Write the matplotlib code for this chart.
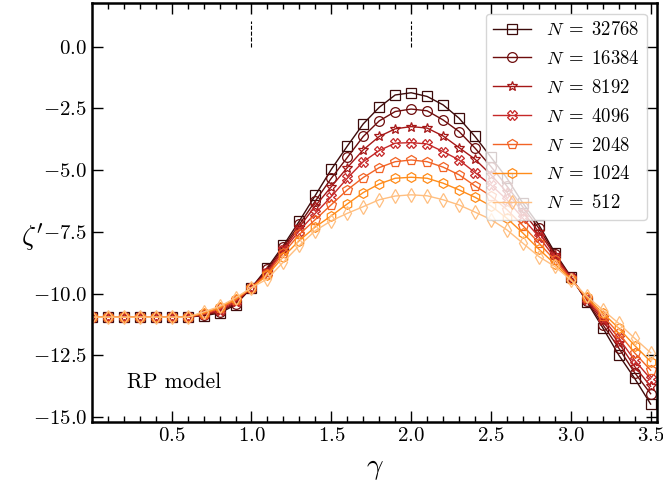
#Plot of zeta' against gamma for the RP model at several system sizes.
import matplotlib
matplotlib.use('Agg')
import matplotlib.pyplot as plt
import numpy as np

plt.rcParams['mathtext.fontset'] = 'cm'
plt.rcParams['font.family'] = 'serif'
plt.rcParams['font.serif'] = ['cmr10']
plt.rcParams['axes.formatter.use_mathtext'] = True

gamma = np.round(np.arange(0.0, 3.51, 0.1), 1)

sizes = [32768, 16384, 8192, 4096, 2048, 1024, 512]
markers = ['s', 'o', '*', 'X', 'p', 'h', 'd']
colors = ['#3d0b0b', '#6e0d0d', '#a51717', '#c62828', '#f26325', '#ff8c1a', '#ffbf80']

flat = [-10.95] * 7

z_32768 = flat + [-10.89, -10.79, -10.45, -9.76, -8.95, -8.05, -7.06, -6.02, -4.97, -4.03,
                  -3.13, -2.46, -1.96, -1.87, -2.02, -2.36, -2.90, -3.64, -4.48, -5.33,
                  -6.34, -7.22, -8.34, -9.31, -10.32, -11.38, -12.48, -13.43, -14.47]
z_16384 = flat + [-10.87, -10.74, -10.40, -9.76, -9.02, -8.12, -7.20, -6.25, -5.33, -4.49,
                  -3.64, -3.01, -2.63, -2.53, -2.60, -2.97, -3.44, -4.11, -4.86, -5.65,
                  -6.50, -7.35, -8.40, -9.33, -10.28, -11.25, -12.20, -13.20, -14.05]
z_8192 = flat + [-10.85, -10.70, -10.35, -9.76, -9.10, -8.20, -7.30, -6.45, -5.67, -4.90,
                 -4.18, -3.64, -3.33, -3.24, -3.30, -3.62, -4.09, -4.56, -5.19, -5.90,
                 -6.70, -7.50, -8.45, -9.35, -10.25, -11.10, -12.00, -12.95, -13.75]
z_4096 = flat + [-10.83, -10.65, -10.30, -9.76, -9.15, -8.25, -7.45, -6.75, -6.07, -5.33,
                 -4.66, -4.21, -3.91, -3.89, -3.94, -4.25, -4.59, -5.10, -5.60, -6.20,
                 -6.95, -7.70, -8.55, -9.37, -10.20, -11.00, -11.80, -12.70, -13.45]
z_2048 = flat + [-10.81, -10.60, -10.26, -9.76, -9.20, -8.35, -7.60, -7.00, -6.40, -5.80,
                 -5.30, -4.90, -4.66, -4.59, -4.66, -4.88, -5.19, -5.64, -6.05, -6.60,
                 -7.25, -7.95, -8.65, -9.40, -10.18, -10.90, -11.60, -12.40, -13.10]
z_1024 = flat + [-10.78, -10.56, -10.22, -9.76, -9.25, -8.50, -7.85, -7.30, -6.85, -6.37,
                 -5.91, -5.56, -5.33, -5.29, -5.33, -5.53, -5.80, -6.10, -6.45, -6.95,
                 -7.55, -8.20, -8.80, -9.42, -10.15, -10.78, -11.40, -12.10, -12.75]
z_512 = flat + [-10.74, -10.52, -10.17, -9.76, -9.40, -8.72, -8.05, -7.45, -7.05, -6.75,
                -6.48, -6.20, -6.05, -6.00, -6.04, -6.20, -6.41, -6.70, -7.00, -7.42,
                -7.96, -8.50, -8.90, -9.45, -10.10, -10.66, -11.20, -11.81, -12.39]

zeta = [z_32768, z_16384, z_8192, z_4096, z_2048, z_1024, z_512]

fig = plt.figure(figsize=(6.63, 4.92), dpi=100)
ax = fig.add_axes([0.1385, 0.142, 0.8525, 0.8513])

for n, m, c, z in zip(sizes, markers, colors, zeta):
    ax.plot(gamma, z, color=c, marker=m, markerfacecolor='none', markeredgecolor=c,
            markersize=7, lw=1.0, markeredgewidth=0.9, label=r'$N\;=\;%d$' % n)

# short dashed marks at gamma = 1 and gamma = 2
ax.vlines([1.0, 2.0], 0.0, 1.05, colors='k', linestyles='--', lw=0.8)

ax.set_xlim(0.0, 3.54)
ax.set_ylim(-15.2, 1.75)
ax.set_xticks([0.5, 1.0, 1.5, 2.0, 2.5, 3.0, 3.5])
ax.set_xticks(np.arange(0.1, 3.51, 0.1), minor=True)
ax.set_yticks([-15.0, -12.5, -10.0, -7.5, -5.0, -2.5, 0.0])
ax.tick_params(which='both', direction='in', top=True, right=True, labelsize=15)
ax.tick_params(which='major', length=8, width=1)
ax.tick_params(which='minor', length=4, width=1)
for s in ax.spines.values():
    s.set_linewidth(1.8)

ax.set_xlabel(r'$\gamma$', fontsize=21, labelpad=8)
ax.set_ylabel(r"$\zeta'$", fontsize=20, rotation=0, ha='center', va='center')
ax.yaxis.set_label_coords(-0.106, 0.44)
ax.text(0.22, -13.6, 'RP model', fontsize=15.5, va='center')

ax.legend(loc='upper right', fontsize=13.5, numpoints=1, handlelength=2.0,
          borderaxespad=0.55, labelspacing=0.58)

fig.savefig('out.png', dpi=100)
